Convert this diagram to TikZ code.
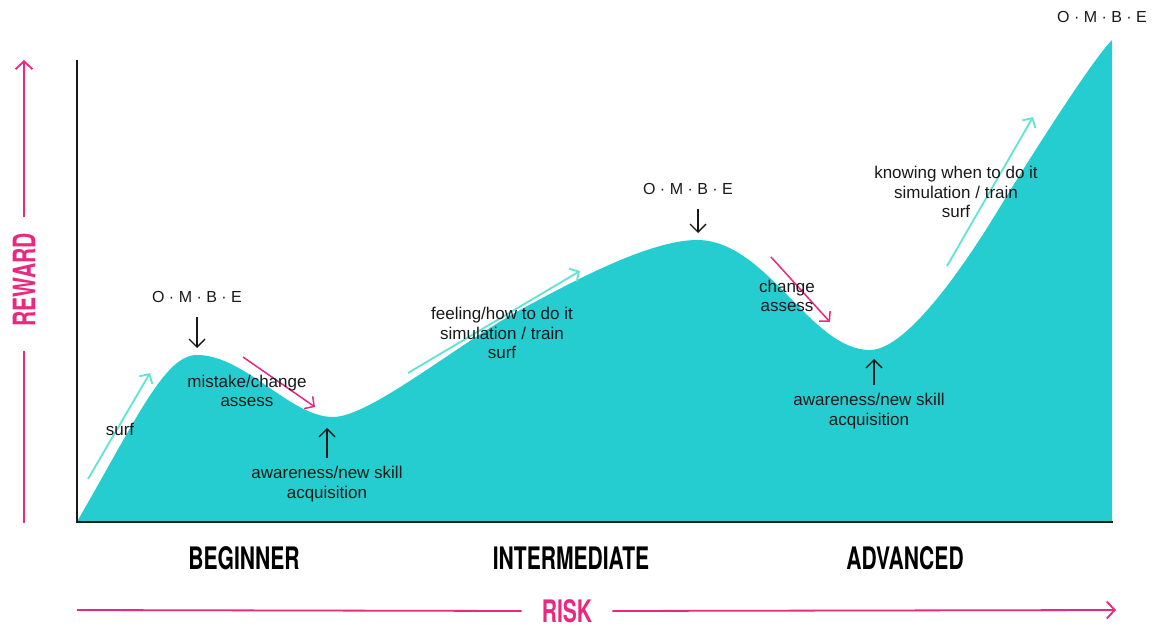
\documentclass[tikz,border=0pt]{standalone}
\usepackage{fontspec}
\setmainfont{Liberation Sans}
\newfontfamily\headfont{TeX Gyre Heros}
\usetikzlibrary{arrows.meta}
\definecolor{wave}{RGB}{38,205,208}
\definecolor{wavearrow}{RGB}{95,228,212}
\definecolor{riskpink}{RGB}{233,40,128}
\definecolor{ink}{RGB}{25,25,25}
\newcommand{\levelname}[1]{\scalebox{0.68}[1]{\headfont\bfseries #1}}
\tikzset{
    note/.style={align=center,text=ink,font=\fontsize{17}{19.5}\selectfont,inner sep=0pt},
    ombe/.style={text=ink,font=\fontsize{16}{19}\selectfont,inner sep=0pt},
    level/.style={font=\fontsize{31}{31}\selectfont,inner sep=0pt},
    barb/.style={-{Straight Barb[length=7pt,width=15pt]}},
    surfarrow/.style={barb,draw=wavearrow,line width=1.8pt},
    slidearrow/.style={barb,draw=riskpink,line width=1.5pt},
    markarrow/.style={-{Straight Barb[length=8pt,width=16pt]},draw=ink,line width=1.4pt},
    axisline/.style={draw=riskpink,line width=1.8pt},
    axistip/.style={-{Straight Barb[length=8pt,width=17pt]}}
}

\begin{document}
\begin{tikzpicture}[x=1pt,y=1pt]
        \useasboundingbox (0,0) rectangle (1152,630);
        \coordinate (origin) at (77,108);
        \coordinate (peakA) at (197,282);
        \coordinate (valleyA) at (327,202);
        \coordinate (peakB) at (698,397);
        \coordinate (valleyB) at (874,271);

        \fill[wave] (78,108) -- (78,110)
            .. controls (138,214) and (165,275) .. (197,275)
            .. controls (245,275) and (290,213) .. (333,213)
            .. controls (370,213) and (458.5,286.5) .. (520,320)
            .. controls (572.7,348.7) and (650,390) .. (697,390)
            .. controls (767,390) and (810,280) .. (870,280)
            .. controls (910,280) and (974,380) .. (1000,423)
            .. controls (1020.6,457.3) and (1091,569) .. (1112,590)
            -- (1112,108) -- cycle;
        \draw[line width=2.5pt,draw=ink] (77,570) -- (origin) -- (1113,108);

        \draw[surfarrow] (88,151) -- (150,257);
        \draw[surfarrow] (408,257) -- (580,359);
        \draw[surfarrow] (947,364) -- (1033,513);
        \draw[slidearrow] (243,273) -- (315,223);
        \draw[slidearrow] (771,373) -- (830,308);

        \node[note] (surfA) at (120,201) {surf};
        \node[note] (mistake) at (247,239) {mistake/change\\assess};
        \node[note] (awareA) at (327,146) {awareness/new skill\\acquisition};
        \node[note] (feeling) at (502,297) {feeling/how to do it\\simulation / train\\surf};
        \node[note] (change) at (787,334) {change\\assess};
        \node[note] (awareB) at (869,219) {awareness/new skill\\acquisition};
        \node[note] (knowing) at (956,438) {knowing when to do it\\simulation / train\\surf};

        \node[ombe] (ombeA) at (197,333) {O · M · B · E};
        \node[ombe] (ombeB) at (688,441) {O · M · B · E};
        \node[ombe] (ombeC) at (1102,613) {O · M · B · E};
        \draw[markarrow] ([yshift=-14pt]ombeA.south) -- (peakA);
        \draw[markarrow] ([yshift=-14pt]ombeB.south -| peakB) -- (peakB);
        \draw[markarrow] ([yshift=8pt]awareA.north) -- (valleyA);
        \draw[markarrow] ([yshift=8pt]awareB.north -| valleyB) -- (valleyB);

        \node[level] (beginner) at (244,72) {\levelname{BEGINNER}};
        \node[level] (intermediate) at (571,72) {\levelname{INTERMEDIATE}};
        \node[level] (advanced) at (905,72) {\levelname{ADVANCED}};

        \node[level,text=riskpink] (risk) at (567,19) {\levelname{RISK}};
        \draw[axisline] (77,20) -- ([xshift=-20pt]risk.west);
        \draw[axisline,axistip] ([xshift=20pt]risk.east) -- (1116,20);
        \node[level,text=riskpink,rotate=90] (reward) at (24,350) {\levelname{REWARD}};
        \draw[axisline] (24,107) -- ([yshift=-24pt]reward.west -| 24,0);
        \draw[axisline,axistip] ([yshift=16pt]reward.east -| 24,0) -- (24,570);
\end{tikzpicture}
\end{document}
